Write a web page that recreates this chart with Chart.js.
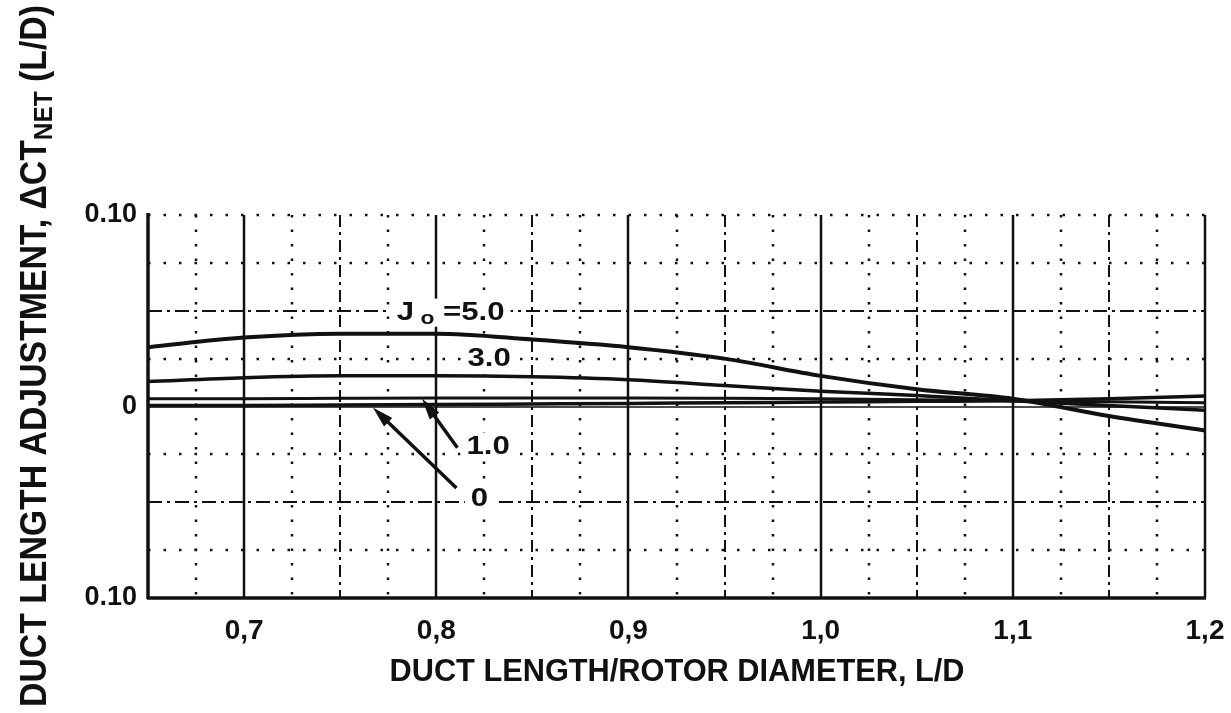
<!DOCTYPE html>
<html>
<head>
<meta charset="utf-8">
<script src="https://cdn.jsdelivr.net/npm/chart.js@4/dist/chart.umd.min.js"></script>
<style>
  html, body { margin: 0; padding: 0; background: #fff; }
</style>
</head>
<body>
<canvas id="myChart" width="1231" height="713"></canvas>
<script>
// duct length / rotor diameter
const ratios = [0.65, 0.70, 0.75, 0.80, 0.85, 0.90, 0.95, 1.00, 1.05, 1.10, 1.15, 1.20];
// delta CT net for each advance ratio J0
const j5 = [0.031, 0.036, 0.038, 0.038, 0.035, 0.031, 0.025, 0.016, 0.009, 0.004, -0.005, -0.0125];
const j3 = [0.013, 0.015, 0.016, 0.016, 0.0155, 0.014, 0.011, 0.008, 0.0057, 0.003, 0.0005, -0.002];
const j1 = [0.004, 0.004, 0.0043, 0.0045, 0.0045, 0.0045, 0.0043, 0.004, 0.0035, 0.003, 0.0025, 0.002];
const j0 = [0.0005, 0.0005, 0.0008, 0.001, 0.0013, 0.0016, 0.002, 0.0023, 0.0027, 0.003, 0.004, 0.0055];

const xTicks = [0.7, 0.8, 0.9, 1.0, 1.1, 1.2];
const xTickLabels = ["0,7", "0,8", "0,9", "1,0", "1,1", "1,2"];
const yTicks = [-0.1, 0, 0.1];
const yTickLabels = ["0.10", "0", "0.10"];

const INK = "#111";
const FONT = "'Liberation Sans', Arial, sans-serif";

function series(vals, w) {
  return {
    data: ratios.map((x, i) => ({ x: x, y: vals[i] })),
    borderColor: INK,
    borderWidth: w,
    pointRadius: 0,
    fill: false,
    cubicInterpolationMode: "monotone",
  };
}

// paper grid: solid every 0.1, dash-dot every 0.05, dots every 0.025
const paperGrid = {
  id: "paperGrid",
  beforeDatasetsDraw(chart) {
    const { ctx, chartArea: a, scales: { x, y } } = chart;
    ctx.save();
    ctx.strokeStyle = INK;
    ctx.lineCap = "butt";
    const seg = (x1, y1, x2, y2, w, dash) => {
      ctx.lineWidth = w;
      ctx.setLineDash(dash);
      ctx.beginPath();
      ctx.moveTo(x1, y1);
      ctx.lineTo(x2, y2);
      ctx.stroke();
    };
    for (let k = 1; k <= 22; k++) {
      const v = 0.65 + k * 0.025;
      const px = Math.round(x.getPixelForValue(v));
      const m = Math.round(v * 1000) % 100;
      if (m === 0) seg(px, a.top, px, a.bottom, 2.5, []);
      else if (m === 50) seg(px, a.top, px, a.bottom, 2, [12, 5, 3, 5]);
      else seg(px, a.top, px, a.bottom, 2.5, [2.5, 12]);
    }
    for (let k = 0; k <= 8; k++) {
      const v = -0.1 + k * 0.025;
      const py = Math.round(y.getPixelForValue(v));
      const m = Math.round(Math.abs(v) * 1000);
      if (m === 100 && v < 0) continue;
      if (m === 50) seg(a.left, py, a.right, py, 2, [14, 5, 3, 5]);
      else if (m === 0) seg(a.left, py, a.right, py, 1.5, []);
      else seg(a.left, py, a.right, py, 2.5, [2.5, 13]);
    }
    // frame: left and bottom heavy
    seg(a.left, a.top - 2, a.left, a.bottom + 1, 3.5, []);
    seg(a.left - 1, a.bottom, a.right + 1, a.bottom, 3.5, []);
    ctx.restore();
  },
};

// axis titles and curve labels
const labelsPlugin = {
  id: "labelsPlugin",
  afterDatasetsDraw(chart) {
    const { ctx, scales: { x, y } } = chart;
    ctx.save();
    ctx.fillStyle = INK;
    ctx.strokeStyle = INK;

    const boxText = (parts, cx, cy, sx) => {
      // parts: [text, size, dy]
      let w = 0;
      parts.forEach(p => { ctx.font = "bold " + p[1] + "px " + FONT; w += ctx.measureText(p[0]).width; });
      ctx.save();
      ctx.translate(cx, cy);
      ctx.scale(sx, 1);
      let px = -w / 2;
      ctx.fillStyle = "#fff";
      ctx.fillRect(px - 5, -14, w + 10, 28);
      ctx.fillStyle = INK;
      ctx.textBaseline = "middle";
      ctx.textAlign = "left";
      parts.forEach(p => {
        ctx.font = "bold " + p[1] + "px " + FONT;
        ctx.fillText(p[0], px, p[2]);
        px += ctx.measureText(p[0]).width;
      });
      ctx.restore();
    };
    const arrow = (x1, y1, x2, y2) => {
      const ax = x.getPixelForValue(x1), ay = y.getPixelForValue(y1);
      const bx = x.getPixelForValue(x2), by = y.getPixelForValue(y2);
      const ang = Math.atan2(by - ay, bx - ax);
      ctx.lineWidth = 3.5;
      ctx.setLineDash([]);
      ctx.beginPath();
      ctx.moveTo(ax, ay);
      ctx.lineTo(bx - 14 * Math.cos(ang), by - 14 * Math.sin(ang));
      ctx.stroke();
      ctx.beginPath();
      ctx.moveTo(bx, by);
      ctx.lineTo(bx - 22 * Math.cos(ang - 0.27), by - 22 * Math.sin(ang - 0.27));
      ctx.lineTo(bx - 22 * Math.cos(ang + 0.27), by - 22 * Math.sin(ang + 0.27));
      ctx.closePath();
      ctx.fill();
    };

    boxText([["J", 26, 0], [" o", 19, 6], [" =5.0", 26, 0]], x.getPixelForValue(0.8075), y.getPixelForValue(0.049), 1.2);
    boxText([["3.0", 26, 0]], x.getPixelForValue(0.8275), y.getPixelForValue(0.025), 1.2);
    boxText([["1.0", 26, 0]], x.getPixelForValue(0.827), y.getPixelForValue(-0.021), 1.2);
    boxText([["0", 26, 0]], x.getPixelForValue(0.8225), y.getPixelForValue(-0.048), 1.2);
    arrow(0.811, -0.0215, 0.7926, 0.004);
    arrow(0.8105, -0.0425, 0.767, -0.0005);

    // x axis title
    ctx.font = "bold 31px " + FONT;
    ctx.textAlign = "center";
    ctx.textBaseline = "middle";
    const xt = "DUCT LENGTH/ROTOR DIAMETER, L/D";
    const xw = ctx.measureText(xt).width;
    ctx.save();
    ctx.translate(677, 672);
    ctx.scale(575 / xw, 1);
    ctx.fillText(xt, 0, 0);
    ctx.restore();

    // y axis title with subscript
    const main = "DUCT LENGTH ADJUSTMENT, \u0394CT";
    const sub = "NET";
    const tail = " (L/D)";
    ctx.font = "bold 36px " + FONT;
    const w1 = ctx.measureText(main).width, w3 = ctx.measureText(tail).width;
    ctx.font = "bold 26px " + FONT;
    const w2 = ctx.measureText(sub).width;
    const s = 702 / (w1 + w2 + w3);
    ctx.save();
    ctx.translate(36, 707);
    ctx.rotate(-Math.PI / 2);
    ctx.scale(s, 1);
    ctx.textAlign = "left";
    ctx.textBaseline = "middle";
    ctx.font = "bold 36px " + FONT;
    ctx.fillText(main, 0, 0);
    ctx.font = "bold 26px " + FONT;
    ctx.fillText(sub, w1, 9);
    ctx.font = "bold 36px " + FONT;
    ctx.fillText(tail, w1 + w2, 0);
    ctx.restore();

    ctx.restore();
  },
};

const ctx = document.getElementById("myChart");
const myChart = new Chart(ctx, {
  type: "line",
  data: {
    datasets: [series(j0, 3.5), series(j1, 3), series(j3, 3.5), series(j5, 4)],
  },
  options: {
    responsive: false,
    animation: false,
    layout: { padding: { top: 215, right: 26, left: 0, bottom: 0 } },
    plugins: { legend: { display: false }, tooltip: { enabled: false } },
    scales: {
      x: {
        type: "linear",
        min: 0.65,
        max: 1.2,
        afterBuildTicks: (scale) => { scale.ticks = xTicks.map(v => ({ value: v })); },
        afterFit: (scale) => { scale.height = 115; scale.paddingLeft = 0; scale.paddingRight = 0; },
        grid: { display: false },
        border: { display: false },
        ticks: {
          color: INK,
          padding: 8,
          maxRotation: 0,
          autoSkip: false,
          font: { family: FONT, size: 28, weight: "bold" },
          callback: (v) => { const i = xTicks.findIndex(t => Math.abs(t - v) < 1e-6); return i < 0 ? "" : xTickLabels[i]; },
        },
      },
      y: {
        min: -0.1,
        max: 0.1,
        afterBuildTicks: (scale) => { scale.ticks = yTicks.map(v => ({ value: v })); },
        afterFit: (scale) => { scale.width = 148; scale.paddingTop = 0; scale.paddingBottom = 0; },
        grid: { display: false },
        border: { display: false },
        ticks: {
          color: INK,
          padding: 3,
          font: { family: FONT, size: 27, weight: "bold" },
          callback: (v) => { const i = yTicks.findIndex(t => Math.abs(t - v) < 1e-6); return i < 0 ? "" : yTickLabels[i]; },
        },
      },
    },
  },
  plugins: [paperGrid, labelsPlugin],
});
</script>
</body>
</html>
